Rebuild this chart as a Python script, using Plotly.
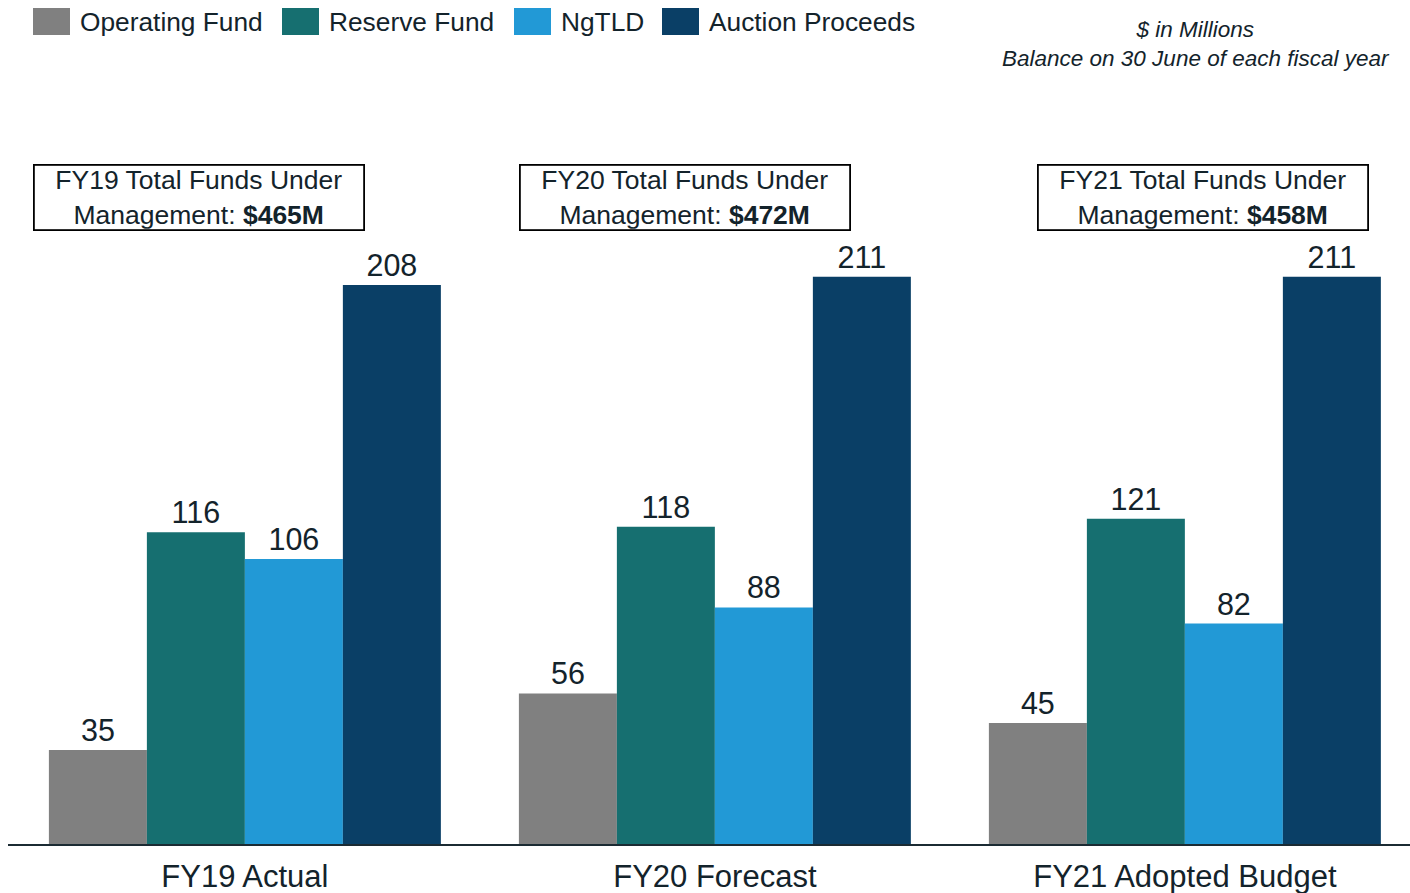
import plotly.graph_objects as go

categories = ["FY19 Actual", "FY20 Forecast", "FY21 Adopted Budget"]
series_names = ["Operating Fund", "Reserve Fund", "NgTLD", "Auction Proceeds"]
operating_fund = [35, 56, 45]
reserve_fund = [116, 118, 121]
ngtld = [106, 88, 82]
auction_proceeds = [208, 211, 211]
totals = ["$465M", "$472M", "$458M"]
fiscal_years = ["FY19", "FY20", "FY21"]

colors = ["#808080", "#166f70", "#2299d6", "#0a3f66"]
TXT = "#13232b"
FONT = "Liberation Sans, Arial, sans-serif"

W, H = 1410, 893
ML, MR, MT, MB = 8, 0, 140, 49
PW, PH = W - ML - MR, H - MT - MB


def px_x(px):
    return (px - ML) / PW


def px_y(py):
    return (H - MB - py) / PH


values = [operating_fund, reserve_fund, ngtld, auction_proceeds]

fig = go.Figure()
for name, vals, col in zip(series_names, values, colors):
    fig.add_trace(go.Bar(
        x=categories, y=vals, name=name, marker=dict(color=col, line=dict(width=0)),
        text=[str(v) for v in vals], textposition="outside", cliponaxis=False,
        textfont=dict(size=30.5, color=TXT, family=FONT), showlegend=False,
        hoverinfo="skip",
    ))

annotations = []
# Total funds boxes
box_offsets = [-0.098, -0.064, 0.038]
for i, (fy, tot) in enumerate(zip(fiscal_years, totals)):
    annotations.append(dict(
        x=i + box_offsets[i], y=240.5, xref="x", yref="y",
        text=f"{fy} Total Funds Under<br>Management: <b>{tot}</b>",
        showarrow=False, font=dict(size=26.5, color=TXT, family=FONT),
        bordercolor="#000000", borderwidth=1.8, borderpad=0,
        width=328, height=63, bgcolor="white", align="center",
    ))

# Notes top right
annotations.append(dict(
    x=px_x(1196), y=px_y(44), xref="paper", yref="paper",
    text="<i>$ in Millions</i><br><i>Balance on 30 June of each fiscal year</i>",
    showarrow=False, font=dict(size=22.5, color=TXT, family=FONT), align="center",
    xanchor="center", yanchor="middle",
))

# Custom legend
shapes = []
swatch_x = [33, 282, 514, 662]
for sx, name, col in zip(swatch_x, series_names, colors):
    shapes.append(dict(type="rect", xref="paper", yref="paper",
                       x0=px_x(sx), x1=px_x(sx + 37),
                       y0=px_y(35), y1=px_y(8),
                       fillcolor=col, line=dict(width=0)))
    annotations.append(dict(
        x=px_x(sx + 45), y=px_y(22), xref="paper", yref="paper",
        text=name, showarrow=False, xanchor="left", yanchor="middle",
        font=dict(size=26.3, color=TXT, family=FONT),
    ))

fig.update_layout(
    width=W, height=H,
    margin=dict(l=ML, r=MR, t=MT, b=MB),
    paper_bgcolor="white", plot_bgcolor="white",
    barmode="group", bargap=0.166, bargroupgap=0,
    font=dict(family=FONT, color=TXT),
    annotations=annotations, shapes=shapes,
    showlegend=False,
)
fig.update_xaxes(
    range=[-0.504, 2.479], showline=True, linecolor="#1b2b33", linewidth=2,
    ticks="", tickfont=dict(size=31, color=TXT, family=FONT), showgrid=False,
    ticklabelstandoff=4,
)
fig.update_yaxes(range=[0, 261.9], visible=False, showgrid=False, zeroline=False)

fig.write_html(
    "out.html",
    config={"displayModeBar": False},
    post_script="document.body.style.margin='0px';document.body.style.overflow='hidden';",
)
